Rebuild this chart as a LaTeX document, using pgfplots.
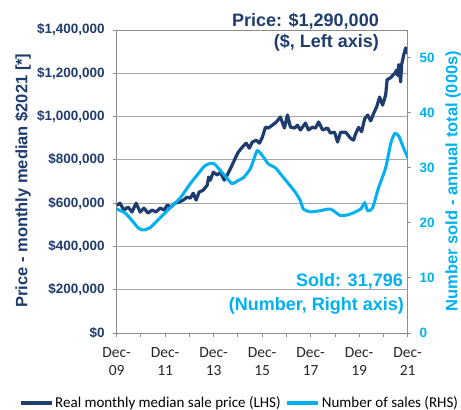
\documentclass[border=0pt]{standalone}
\usepackage{pgfplots}
\pgfplotsset{compat=1.18}
\usepackage{pgfplotstable}
\usepackage{fontspec}
\setmainfont{Liberation Sans}
\newfontfamily\calfont{Carlito}
\definecolor{navy}{HTML}{1F3C6E}
\definecolor{sky}{HTML}{00B0F0}
\definecolor{axgray}{HTML}{8C8C8C}
\definecolor{grd}{HTML}{A6A6A6}

\pgfplotstableread{
m v
0 590000
1.6 600000
3.6 568000
5.6 582000
7.6 559000
9.6 600000
11.6 559000
13.5 577000
15.5 554000
17.5 568000
19.5 559000
21.5 577000
23.5 568000
25 591000
26.9 582000
28.9 600000
30.9 605000
32.9 614000
34.9 628000
36.4 623000
37.9 646000
39.3 614000
40.8 651000
42.8 660000
44.8 683000
45.5 720000
46.3 706000
47.8 743000
49.8 730000
51.3 743000
53.2 706000
54.7 730000
56.7 767000
58.7 808000
60.2 836000
62.2 859000
64.1 877000
65.6 854000
67.1 882000
69.1 891000
70.6 877000
72.1 905000
73.6 951000
75 947000
77 960000
79 975000
81 998000
83 947000
84.5 1007000
86 951000
88 947000
89.4 960000
90.9 938000
93.4 970000
94.9 938000
96.9 951000
98.4 947000
99.9 975000
101.9 938000
104.3 947000
105.8 924000
107.8 928000
109.3 882000
110.8 928000
113.3 928000
115.7 900000
117.2 891000
118.2 920000
119.7 950000
121.2 930000
122.7 990000
124.2 1007000
125.7 980000
127.2 1016000
128.6 1044000
130.1 1090000
131.6 1053000
133.1 1100000
133.8 1170000
135.6 1180000
137.6 1200000
138.6 1215000
139.1 1190000
139.6 1240000
140.5 1160000
141 1240000
142 1284000
143 1317000
144 1290000
}\pricetab

\pgfplotstableread{
m v
0 22.5
4.1 21.8
7.6 20.4
10.6 19.1
13 18.7
16.5 19.1
21.5 20.9
26.4 22.7
31.4 24.5
36.4 27.1
40.3 28.9
43.8 30.4
47.8 30.8
51.3 29.5
54.3 28.2
57.2 27.1
59.7 27.6
62.7 28.2
66.1 29.8
68.1 31.8
69.6 33.1
72.1 32.2
75 30.7
78.5 30
81 28.9
85 27.1
88.5 25.5
90.9 24
92.4 22.5
95.9 22
100.8 22.2
105.8 22.5
110.8 21.3
115.7 21.6
120.7 22.5
122.7 23.6
124.2 22.2
126.6 22.7
129.6 26.4
133.1 30
135.6 34.4
137.6 36.2
139.5 35.8
141.5 34
144 31.8
}\salestab

\begin{document}
\begin{tikzpicture}
\useasboundingbox (-116.7pt,-77pt) rectangle (344.3pt,333pt);
\begin{axis}[
  at={(0pt,0pt)}, anchor=south west,
  scale only axis, width=291pt, height=303pt,
  xmin=0, xmax=144, ymin=0, ymax=1400000,
  xtick={0,24,...,144}, minor xtick={12,36,...,132},
  xticklabels={{Dec-\\09},{Dec-\\11},{Dec-\\13},{Dec-\\15},{Dec-\\17},{Dec-\\19},{Dec-\\21}},
  ytick={0,200000,...,1400000},
  ymajorgrids, grid style={grd, line width=0.9pt},
  axis line style={axgray, line width=1pt},
  tick style={axgray, line width=0.9pt},
  tick align=outside, major tick length=3.5pt, minor tick length=3.5pt,
  xtick pos=bottom, ytick pos=left,
  scaled y ticks=false,
  yticklabel={\$\pgfmathprintnumber[fixed,precision=0,1000 sep={,},assume math mode=true]{\tick}},
  yticklabel style={font=\fontsize{13.5}{16}\selectfont\bfseries, text=navy, xshift=-5pt},
  xticklabel style={font=\calfont\fontsize{15.5}{18}\selectfont, align=center, text=black!85, yshift=-8pt},
  legend style={at={(0.422,-0.231)}, anchor=center, draw=none, fill=none,
    font=\calfont\fontsize{15}{17}\selectfont, inner sep=0pt,
    /tikz/every even column/.append style={column sep=3pt}},
  legend columns=2,
  legend image code/.code={\draw[#1, line width=3.2pt] (0pt,0pt) -- (31pt,0pt);},
]
\addplot[navy, line width=3.2pt, line join=round] table[x=m,y=v] {\pricetab};
\addlegendentry{Real monthly median sale price (LHS)}
\addlegendimage{sky}
\addlegendentry{Number of sales (RHS)}
\end{axis}
\begin{axis}[
  at={(0pt,0pt)}, anchor=south west,
  scale only axis, width=291pt, height=303pt,
  xmin=0, xmax=144, ymin=0, ymax=55,
  axis x line=none, axis y line*=right,
  ytick={0,10,...,50},
  axis line style={axgray, line width=1pt},
  tick style={axgray, line width=0.9pt},
  tick align=outside, major tick length=3.5pt,
  yticklabel={\pgfmathprintnumber[assume math mode=true]{\tick}},
  yticklabel style={font=\fontsize{13.5}{16}\selectfont\bfseries, text=sky, xshift=5pt},
]
\addplot[sky, line width=3pt, smooth, tension=0.4] table[x=m,y=v] {\salestab};
\end{axis}
\node[rotate=90, text=navy, font=\fontsize{16.5}{18}\selectfont\bfseries] at (-93.7pt,152.5pt) {Price - monthly median \$2021 [*]};
\node[rotate=90, text=sky, font=\fontsize{16.5}{18}\selectfont\bfseries] at (336.3pt,152pt) {Number sold - annual total (000s)};
\node[anchor=base east, inner sep=0pt, text=navy, font=\fontsize{18}{20}\selectfont\bfseries] at (262.3pt,306pt) {Price: \$1,290,000};
\node[anchor=base east, inner sep=0pt, text=navy, font=\fontsize{18}{20}\selectfont\bfseries] at (262.3pt,285pt) {(\$, Left axis)};
\node[anchor=base east, inner sep=0pt, text=sky, font=\fontsize{18}{20}\selectfont\bfseries] at (286.3pt,47pt) {Sold: 31,796};
\node[anchor=base east, inner sep=0pt, text=sky, font=\fontsize{18}{20}\selectfont\bfseries] at (287.3pt,23pt) {(Number, Right axis)};
\end{tikzpicture}
\end{document}
